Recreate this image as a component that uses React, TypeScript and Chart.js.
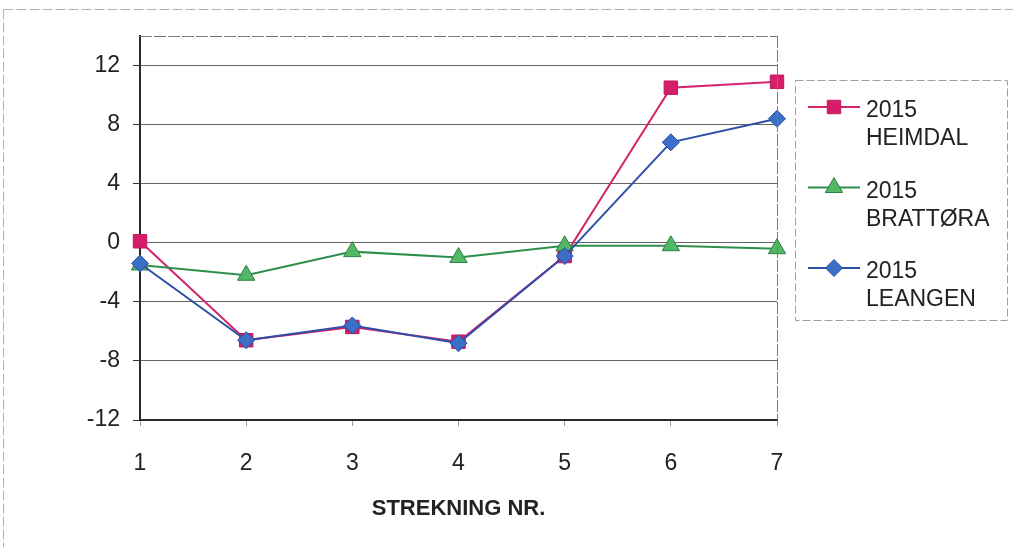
import React, { useEffect, useRef } from "react";
import { Chart, registerables } from "chart.js";

Chart.register(...registerables);

const categories = ["1", "2", "3", "4", "5", "6", "7"];
const heimdal = [0.1, -6.6, -5.7, -6.7, -0.9, 10.5, 10.9];
const brattora = [-1.5, -2.2, -0.6, -1.0, -0.2, -0.2, -0.4];
const leangen = [-1.4, -6.6, -5.6, -6.8, -0.9, 6.8, 8.4];
const seriesLabels = [
  ["2015", "HEIMDAL"],
  ["2015", "BRATTØRA"],
  ["2015", "LEANGEN"],
];
const xTitle = "STREKNING NR.";
const yMin = -12;
const yMax = 14;
const yStep = 4;

const FONT = "'Liberation Sans', Arial, Helvetica, sans-serif";

const styles = [
  { line: "#D2236C", fill: "#D61D69", edge: "#C0195E", shape: "rect", r: 9.5 },
  { line: "#2C8F4C", fill: "#52B865", edge: "#2E7F45", shape: "triangle", r: 10 },
  { line: "#2D4FA6", fill: "#3C6FC8", edge: "#2A4E9E", shape: "rectRot", r: 8.5 },
];

function drawMarker(ctx: CanvasRenderingContext2D, shape: string, x: number, y: number, r: number, fill: string, edge: string) {
  ctx.beginPath();
  if (shape === "rect") {
    const s = Math.SQRT1_2 * r;
    ctx.rect(x - s, y - s, 2 * s, 2 * s);
  } else if (shape === "triangle") {
    ctx.moveTo(x, y - r);
    ctx.lineTo(x + r * 0.866, y + r * 0.5);
    ctx.lineTo(x - r * 0.866, y + r * 0.5);
    ctx.closePath();
  } else {
    ctx.moveTo(x, y - r);
    ctx.lineTo(x + r, y);
    ctx.lineTo(x, y + r);
    ctx.lineTo(x - r, y);
    ctx.closePath();
  }
  ctx.fillStyle = fill;
  ctx.fill();
  ctx.strokeStyle = edge;
  ctx.lineWidth = 1;
  ctx.stroke();
}

const framePlugin = {
  id: "frameAndLegend",
  beforeDraw(chart: any) {
    const ctx = chart.ctx as CanvasRenderingContext2D;
    ctx.save();
    ctx.fillStyle = "#ffffff";
    ctx.fillRect(0, 0, chart.width, chart.height);
    ctx.strokeStyle = "#b0b0b0";
    ctx.lineWidth = 1;
    ctx.setLineDash([10, 3]);
    ctx.beginPath();
    ctx.moveTo(3.5, 9.5);
    ctx.lineTo(1013, 9.5);
    ctx.moveTo(3.5, 9.5);
    ctx.lineTo(3.5, 547);
    ctx.stroke();
    ctx.restore();
  },
  afterDraw(chart: any) {
    const ctx = chart.ctx as CanvasRenderingContext2D;
    const { top, right, left, bottom } = chart.chartArea;
    ctx.save();
    ctx.strokeStyle = "#7a7a7a";
    ctx.lineWidth = 1;
    ctx.setLineDash([12, 2]);
    ctx.beginPath();
    ctx.moveTo(left, top + 0.5);
    ctx.lineTo(right, top + 0.5);
    ctx.moveTo(right + 0.5, top);
    ctx.lineTo(right + 0.5, bottom);
    ctx.stroke();

    ctx.strokeStyle = "#a0a0a0";
    ctx.setLineDash([8, 3]);
    ctx.strokeRect(795.5, 80.5, 212, 240);
    ctx.setLineDash([]);

    seriesLabels.forEach((lines, i) => {
      const st = styles[i];
      const y = 107 + i * 80.5;
      ctx.strokeStyle = st.line;
      ctx.lineWidth = 2;
      ctx.beginPath();
      ctx.moveTo(808, y);
      ctx.lineTo(860, y);
      ctx.stroke();
      drawMarker(ctx, st.shape, 834, y, st.r, st.fill, st.edge);
      ctx.fillStyle = "#222222";
      ctx.font = `23px ${FONT}`;
      ctx.textAlign = "left";
      ctx.textBaseline = "middle";
      lines.forEach((t, j) => {
        ctx.fillText(t, 866, y + 4 + j * 28);
      });
    });
    ctx.restore();
  },
};

export default function App() {
  const ref = useRef<HTMLCanvasElement | null>(null);

  useEffect(() => {
    if (!ref.current) return;
    const all = [heimdal, brattora, leangen];
    const chart = new Chart(ref.current, {
      type: "line",
      data: {
        labels: categories,
        datasets: all.map((vals, i) => ({
          label: seriesLabels[i].join(" "),
          data: vals,
          borderColor: styles[i].line,
          borderWidth: 2,
          backgroundColor: styles[i].fill,
          pointStyle: styles[i].shape as any,
          pointRadius: styles[i].r,
          pointHoverRadius: styles[i].r,
          pointBackgroundColor: styles[i].fill,
          pointBorderColor: styles[i].edge,
          pointBorderWidth: 1,
          tension: 0,
          fill: false,
          order: 3 - i,
        })),
      },
      options: {
        responsive: false,
        animation: false,
        events: [],
        layout: { padding: { left: 0, top: 36, right: 236, bottom: 0 } },
        plugins: {
          legend: { display: false },
          tooltip: { enabled: false },
          title: { display: false },
        },
        scales: {
          x: {
            offset: false,
            afterFit: (scale: any) => {
              scale.height = 127;
            },
            grid: {
              display: true,
              drawOnChartArea: false,
              drawTicks: true,
              tickLength: 6,
              tickColor: "#9a9a9a",
              color: "#9a9a9a",
            },
            border: { display: true, color: "#2a2a2a", width: 2 },
            ticks: {
              color: "#222222",
              font: { family: FONT, size: 23 },
              padding: 24,
              maxRotation: 0,
              autoSkip: false,
            },
            title: {
              display: true,
              text: xTitle,
              color: "#222222",
              font: { family: FONT, size: 22, weight: "bold" },
              padding: { top: 0, bottom: 25 },
            },
          },
          y: {
            min: yMin,
            max: yMax,
            afterFit: (scale: any) => {
              scale.width = 140;
            },
            afterBuildTicks: (scale: any) => {
              scale.ticks = scale.ticks.filter((t: any) => t.value <= 12);
            },
            grid: {
              color: "rgba(60,60,60,0.8)",
              lineWidth: 1,
              tickLength: 7,
              tickColor: "#333333",
            },
            border: { display: true, color: "#2a2a2a", width: 2 },
            ticks: {
              stepSize: yStep,
              color: "#222222",
              font: { family: FONT, size: 23 },
              padding: 13,
            },
          },
        },
      },
      plugins: [framePlugin],
    });
    return () => chart.destroy();
  }, []);

  return (
    <div style={{ position: "fixed", left: 0, top: 0, width: 1013, height: 547, background: "#fff" }}>
      <canvas ref={ref} width={1013} height={547} style={{ display: "block", width: 1013, height: 547 }} />
    </div>
  );
}
